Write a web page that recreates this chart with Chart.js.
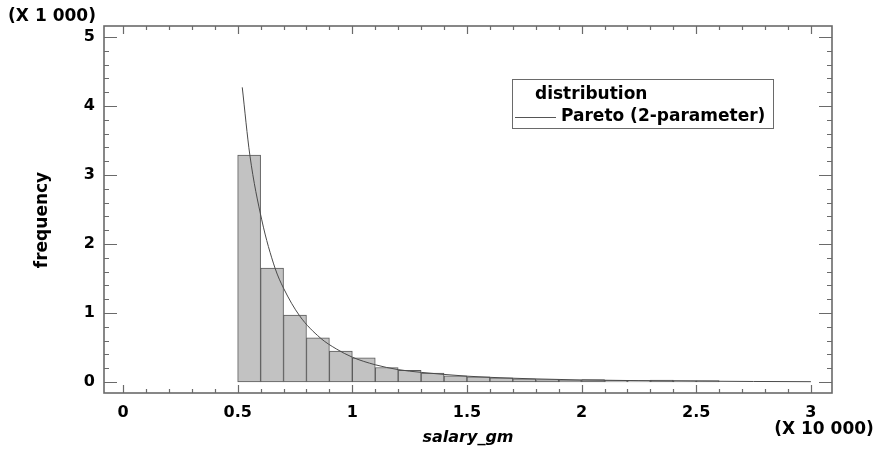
<!DOCTYPE html>
<html>
<head>
<meta charset="utf-8">
<script src="https://cdn.jsdelivr.net/npm/chart.js@4.4.0/dist/chart.umd.min.js"></script>
<style>
    body { margin: 0; background: #fff; }
    #wrap { width: 878px; height: 450px; position: relative; }
</style>
</head>
<body>
<div id="wrap"><canvas id="salaryChart"></canvas></div>
<script>
// histogram bins (salary_gm, in units of 10 000) and frequencies (in units of 1 000)
const binCenters = [0.55, 0.65, 0.75, 0.85, 0.95, 1.05, 1.15, 1.25, 1.35, 1.45, 1.55,
                    1.65, 1.75, 1.85, 1.95, 2.05, 2.15, 2.25, 2.35, 2.45, 2.55];
const binCounts = [3.29, 1.65, 0.97, 0.64, 0.45, 0.35, 0.21, 0.17, 0.13, 0.09, 0.075,
                   0.06, 0.045, 0.035, 0.03, 0.035, 0.025, 0.02, 0.03, 0.02, 0.02];

// fitted Pareto (2-parameter) curve
const curveX = [0.52, 0.553, 0.605, 0.663, 0.7, 0.77, 0.86, 0.93, 1.0, 1.1, 1.2, 1.3,
                1.4, 1.5, 1.6, 1.8, 2.0, 2.25, 2.5, 2.75, 3.0];
const curveY = [4.27, 3.29, 2.35, 1.65, 1.36, 0.96, 0.64, 0.48, 0.36, 0.25, 0.18, 0.14,
                0.11, 0.085, 0.068, 0.045, 0.03, 0.02, 0.013, 0.008, 0.005];

const xTickLabels = [0, 0.5, 1, 1.5, 2, 2.5, 3];
const yTickLabels = [0, 1, 2, 3, 4, 5];

const seriesLabels = ['distribution', 'Pareto (2-parameter)'];

const fontFamily = '"DejaVu Sans", sans-serif';

// frame with inward ticks, y title, multiplier notes and the boxed legend
const framePlugin = {
    id: 'frame',
    afterDraw(chart) {
        const ctx = chart.ctx;
        const area = chart.chartArea;
        const xs = chart.scales.x;
        const ys = chart.scales.y;

        ctx.save();
        ctx.strokeStyle = '#6a6a6a';
        ctx.lineWidth = 1.6;
        ctx.strokeRect(area.left, area.top, area.right - area.left, area.bottom - area.top);

        ctx.lineWidth = 1.2;
        ctx.beginPath();
        for (let i = 0; i <= 30; i++) {
            const px = Math.round(xs.getPixelForValue(i / 10)) + 0.5;
            const len = (i % 5 === 0) ? 8 : 4;
            ctx.moveTo(px, area.bottom);
            ctx.lineTo(px, area.bottom - len);
            ctx.moveTo(px, area.top);
            ctx.lineTo(px, area.top + len);
        }
        for (let i = 0; i <= 25; i++) {
            const py = Math.round(ys.getPixelForValue(i / 5)) + 0.5;
            const len = (i % 5 === 0) ? 13 : 5;
            ctx.moveTo(area.left, py);
            ctx.lineTo(area.left + len, py);
            ctx.moveTo(area.right, py);
            ctx.lineTo(area.right - len, py);
        }
        ctx.stroke();

        ctx.fillStyle = '#000';
        ctx.font = 'bold 17px ' + fontFamily;
        ctx.textBaseline = 'middle';
        ctx.textAlign = 'center';
        ctx.fillText('(X 1 000)', 52, 17);
        ctx.fillText('(X 10 000)', 824, 430);

        ctx.save();
        ctx.translate(43, 220);
        ctx.rotate(-Math.PI / 2);
        ctx.fillText('frequency', 0, 0);
        ctx.restore();

        // legend
        const lx = 512, ly = 79;
        ctx.strokeStyle = '#6a6a6a';
        ctx.lineWidth = 1;
        ctx.strokeRect(lx + 0.5, ly + 0.5, 261, 49);
        ctx.textAlign = 'left';
        ctx.fillText(seriesLabels[0], lx + 23, ly + 16);
        ctx.fillText(seriesLabels[1], lx + 49, ly + 38);
        ctx.strokeStyle = '#555';
        ctx.beginPath();
        ctx.moveTo(lx + 3, ly + 38.5);
        ctx.lineTo(lx + 44, ly + 38.5);
        ctx.stroke();
        ctx.restore();
    }
};

function drawSalaryChart() {
    const ctx = document.getElementById('salaryChart');

    const barData = binCenters.map((x, i) => ({ x: x, y: binCounts[i] }));
    const lineData = curveX.map((x, i) => ({ x: x, y: curveY[i] }));

    new Chart(ctx, {
        type: 'bar',
        data: {
            datasets: [{
                type: 'line',
                label: seriesLabels[1],
                data: lineData,
                borderColor: '#4a4a4a',
                borderWidth: 1,
                pointRadius: 0,
                cubicInterpolationMode: 'monotone',
                order: 0,
            }, {
                type: 'bar',
                label: seriesLabels[0],
                data: barData,
                backgroundColor: '#c2c2c2',
                borderColor: '#5a5a5a',
                borderWidth: 1,
                borderSkipped: false,
                barPercentage: 1,
                categoryPercentage: 1,
                order: 1,
            }]
        },
        options: {
            responsive: true,
            maintainAspectRatio: false,
            animation: false,
            layout: {
                padding: { top: 26, right: 46, bottom: 0, left: 0 }
            },
            plugins: {
                legend: { display: false },
                tooltip: { enabled: false },
            },
            scales: {
                x: {
                    type: 'linear',
                    offset: false,
                    min: -0.083,
                    max: 3.092,
                    grid: { display: false, drawTicks: false },
                    border: { display: false },
                    afterBuildTicks: (scale) => {
                        scale.ticks = xTickLabels.map(v => ({ value: v }));
                    },
                    afterFit: (scale) => { scale.height = 57; },
                    ticks: {
                        autoSkip: false,
                        maxRotation: 0,
                        padding: 10,
                        color: '#000',
                        font: { family: fontFamily, size: 16, weight: 'bold' },
                        callback: (v) => String(v),
                    },
                    title: {
                        display: true,
                        text: 'salary_gm',
                        color: '#000',
                        padding: { top: 0, bottom: 3 },
                        font: { family: fontFamily, size: 16, weight: 'bold', style: 'italic' },
                    },
                },
                y: {
                    type: 'linear',
                    min: -0.159,
                    max: 5.159,
                    grid: { display: false, drawTicks: false },
                    border: { display: false },
                    afterBuildTicks: (scale) => {
                        scale.ticks = yTickLabels.map(v => ({ value: v }));
                    },
                    afterFit: (scale) => { scale.width = 104; },
                    ticks: {
                        padding: 9,
                        color: '#000',
                        font: { family: fontFamily, size: 16, weight: 'bold' },
                        callback: (v) => String(v),
                    },
                    title: { display: false },
                },
            },
        },
        plugins: [framePlugin],
    });
}

drawSalaryChart();
</script>
</body>
</html>
